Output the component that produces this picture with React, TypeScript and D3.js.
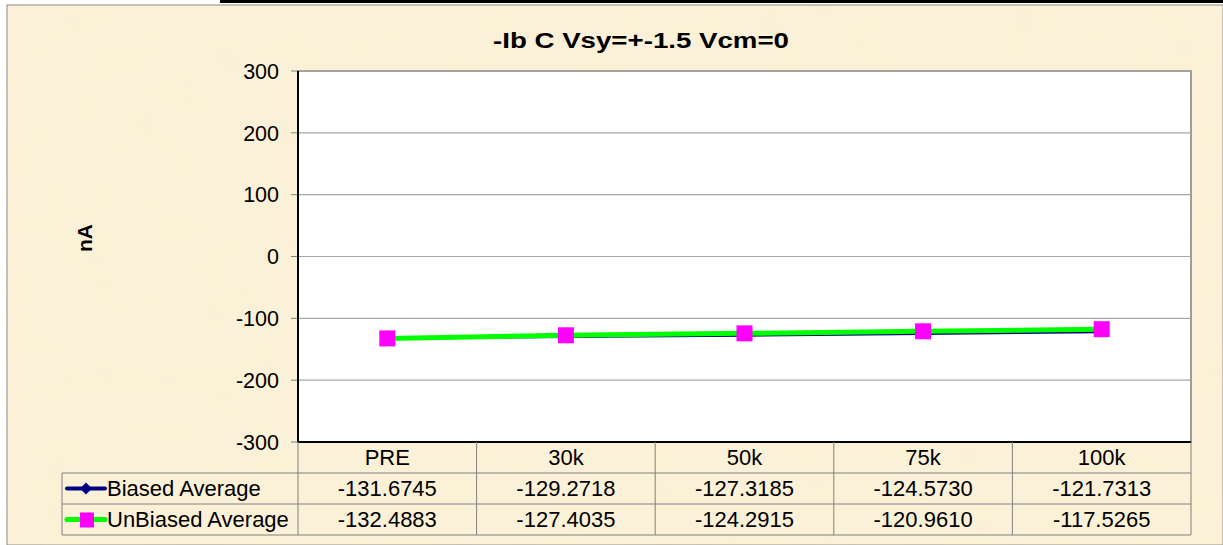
import React from "react";
import * as d3 from "d3";

const categories = ["PRE", "30k", "50k", "75k", "100k"];
const biased = [-131.6745, -129.2718, -127.3185, -124.573, -121.7313];
const unbiased = [-132.4883, -127.4035, -124.2915, -120.961, -117.5265];
const yTicks = [-300, -200, -100, 0, 100, 200, 300];
const seriesNames = ["Biased Average", "UnBiased Average"];
const title = "-Ib C Vsy=+-1.5 Vcm=0";
const yLabel = "nA";

const W = 1223, H = 545;
const plot = { left: 298, right: 1191, top: 71, bottom: 442 };
const rowH = 31;
const legendLeft = 62;
const font = "Arial, 'Liberation Sans', sans-serif";
const fs = 22;

export default function App() {
  const x = d3.scaleBand<string>().domain(categories).range([plot.left, plot.right]);
  const y = d3.scaleLinear().domain([-300, 300]).range([plot.bottom, plot.top]);
  const cx = (c: string) => (x(c) as number) + x.bandwidth() / 2;
  const line = d3.line<number>().x((_, i) => cx(categories[i])).y((d) => y(d));
  const fmt = (v: number) => v.toFixed(4);
  const series = [biased, unbiased];
  const tableBottom = plot.bottom + rowH * 3;

  return (
    <svg width={W} height={H} style={{ position: "absolute", left: 0, top: 0 }} fontFamily={font}>
      <defs>
        <filter id="paper" x="0" y="0" width="100%" height="100%">
          <feTurbulence type="fractalNoise" baseFrequency="0.025" numOctaves={3} seed={4} result="n" />
          <feColorMatrix type="matrix" values="0 0 0 0 0.93  0 0 0 0 0.85  0 0 0 0 0.65  0 0 0 0.18 0" />
        </filter>
      </defs>
      <rect x={0} y={0} width={W} height={H} fill="#ffffff" />
      <rect x={7} y={5} width={W - 7} height={H - 5} fill="#FBF1D8" stroke="#8a8a8a" strokeWidth={1} />
      <rect x={8} y={6} width={W - 8} height={H - 6} filter="url(#paper)" />
      <rect x={220} y={0} width={W - 220} height={3} fill="#000" />

      {/* plot area */}
      <rect x={plot.left} y={plot.top} width={plot.right - plot.left} height={plot.bottom - plot.top} fill="#fff" stroke="#808080" strokeWidth={1.5} />
      {yTicks.map((t) => (
        <g key={t}>
          <line x1={plot.left} x2={plot.right} y1={y(t)} y2={y(t)} stroke="#a6a6a6" strokeWidth={1.2} />
          <line x1={plot.left - 7} x2={plot.left} y1={y(t)} y2={y(t)} stroke="#808080" strokeWidth={1} />
          <text x={279} y={y(t)} dy="0.36em" textAnchor="end" fontSize={21.5} fill="#000">{t}</text>
        </g>
      ))}
      <line x1={plot.left} x2={plot.left} y1={plot.top} y2={plot.bottom} stroke="#000" strokeWidth={2} />
      <line x1={plot.left} x2={plot.right} y1={plot.bottom} y2={plot.bottom} stroke="#000" strokeWidth={2} />

      {/* title & y label */}
      <text x={493} y={48} fontSize={22} fontWeight="bold" textLength={296} lengthAdjust="spacingAndGlyphs">{title}</text>
      <text transform={`translate(92,238) rotate(-90)`} textAnchor="middle" fontSize={21} fontWeight="bold">{yLabel}</text>

      {/* series */}
      <path d={line(biased) || ""} fill="none" stroke="#000080" strokeWidth={3} />
      {biased.map((v, i) => {
        const px = cx(categories[i]), py = y(v);
        return <path key={i} d={`M${px},${py - 5}L${px + 5},${py}L${px},${py + 5}L${px - 5},${py}Z`} fill="#000080" />;
      })}
      <path d={line(unbiased) || ""} fill="none" stroke="#00FF00" strokeWidth={5} />
      {unbiased.map((v, i) => (
        <rect key={i} x={cx(categories[i]) - 8} y={y(v) - 8} width={16} height={16} fill="#FF00FF" />
      ))}

      {/* data table */}
      {categories.map((c, i) => (
        <g key={c}>
          <text x={cx(c)} y={plot.bottom + rowH / 2} dy="0.36em" textAnchor="middle" fontSize={fs}>{c}</text>
          {series.map((s, j) => (
            <text key={j} x={cx(c)} y={plot.bottom + rowH * (j + 1) + rowH / 2} dy="0.36em" textAnchor="middle" fontSize={fs}>{fmt(s[i])}</text>
          ))}
        </g>
      ))}
      {categories.map((c, i) => i > 0 && (
        <line key={c} x1={x(c)} x2={x(c)} y1={plot.bottom} y2={tableBottom} stroke="#808080" strokeWidth={1} />
      ))}
      <line x1={plot.right} x2={plot.right} y1={plot.bottom} y2={tableBottom} stroke="#808080" strokeWidth={1} />
      <line x1={plot.left} x2={plot.left} y1={plot.bottom} y2={tableBottom} stroke="#808080" strokeWidth={1} />
      {[1, 2, 3].map((r) => (
        <line key={r} x1={legendLeft} x2={plot.right} y1={plot.bottom + rowH * r} y2={plot.bottom + rowH * r} stroke="#808080" strokeWidth={1} />
      ))}
      <line x1={legendLeft} x2={legendLeft} y1={plot.bottom + rowH} y2={tableBottom} stroke="#808080" strokeWidth={1} />

      {/* legend keys */}
      {seriesNames.map((n, j) => {
        const ry = plot.bottom + rowH * (j + 1) + rowH / 2;
        return (
          <g key={n}>
            <line x1={legendLeft + 5} x2={legendLeft + 43} y1={ry} y2={ry} stroke={j === 0 ? "#000080" : "#00FF00"} strokeWidth={j === 0 ? 4 : 5} strokeLinecap="round" />
            {j === 0 ? (
              <path d={`M${legendLeft + 24},${ry - 6}L${legendLeft + 30},${ry}L${legendLeft + 24},${ry + 6}L${legendLeft + 18},${ry}Z`} fill="#000080" />
            ) : (
              <rect x={legendLeft + 18} y={ry - 7} width={14} height={15} fill="#FF00FF" />
            )}
            <text x={legendLeft + 45} y={ry} dy="0.36em" fontSize={fs}>{n}</text>
          </g>
        );
      })}
    </svg>
  );
}
